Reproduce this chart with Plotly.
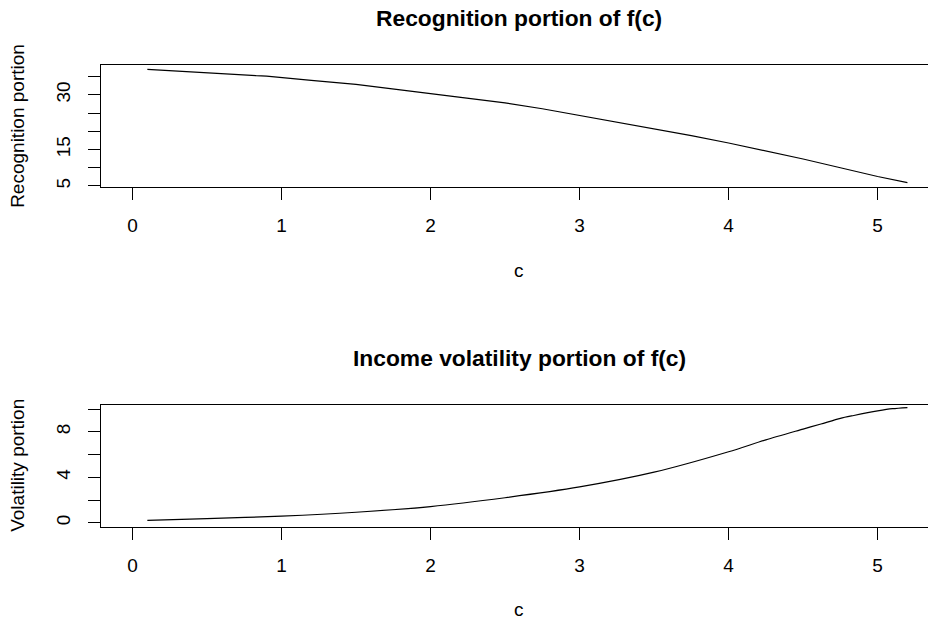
import plotly.graph_objects as go

# Grid of cutoff values c and the two components of f(c)
c_recog = [0.1, 0.3, 0.5, 0.7, 0.83, 0.9, 1.0, 1.2, 1.5, 1.8, 2.0, 2.15, 2.3, 2.5,
           2.75, 3.0, 3.25, 3.5, 3.75, 4.0, 4.25, 4.5, 4.75, 5.0, 5.2]
recognition = [37.03, 36.5, 35.95, 35.45, 35.28, 35.18, 34.75, 34.0, 32.9, 31.4, 30.4,
               29.75, 28.9, 27.8, 26.2, 24.4, 22.6, 20.7, 18.8, 16.8, 14.7, 12.4, 10.0,
               7.6, 5.9]

c_vol = [0.1, 0.5, 1.0, 1.5, 2.0, 2.5, 3.0, 3.5, 4.0, 4.25, 4.5, 4.62, 4.75, 4.84,
         5.0, 5.1, 5.2]
volatility = [0.21, 0.35, 0.58, 0.92, 1.42, 2.2, 3.15, 4.45, 6.25, 7.3, 8.25, 8.7,
              9.2, 9.45, 9.85, 10.05, 10.15]

x_ticks = [0, 1, 2, 3, 4, 5]
recog_ticks = [5, 10, 15, 20, 25, 30, 35]
recog_labels = ["5", "", "15", "", "", "30", ""]
vol_ticks = [0, 2, 4, 6, 8, 10]
vol_labels = ["0", "", "4", "", "8", ""]

W, H = 928, 620
FONT = "Liberation Sans, Arial, Helvetica, sans-serif"
BASE = 19
TITLE = 22.8

# Plot regions in pixels (left, right, top, bottom)
left, right = 101, 928
top1, bot1 = 64.7, 187.0
top2, bot2 = 404.7, 527.0

fig = go.Figure()
fig.add_trace(go.Scatter(x=c_recog, y=recognition, mode="lines",
                         line=dict(color="black", width=1.2),
                         xaxis="x", yaxis="y", showlegend=False))
fig.add_trace(go.Scatter(x=c_vol, y=volatility, mode="lines",
                         line=dict(color="black", width=1.2, shape="spline", smoothing=0.8),
                         xaxis="x2", yaxis="y2", showlegend=False))

xdom = [left / W, right / W]
xrange = [-0.211, 5.338]

common_x = dict(
    domain=xdom, range=xrange, tickvals=x_ticks,
    ticks="outside", ticklen=12, tickwidth=1, tickcolor="black",
    showline=True, linecolor="black", linewidth=1, mirror=True,
    showgrid=False, zeroline=False, ticklabelstandoff=9,
    tickfont=dict(family=FONT, size=BASE, color="black"),
)
common_y = dict(
    ticks="outside", ticklen=12, tickwidth=1, tickcolor="black",
    showline=True, linecolor="black", linewidth=1, mirror=False,
    showgrid=False, zeroline=False, tickangle=-90, ticklabelstandoff=10,
    tickfont=dict(family=FONT, size=BASE, color="black"),
)

fig.update_layout(
    width=W, height=H,
    margin=dict(l=0, r=0, t=0, b=0),
    paper_bgcolor="white", plot_bgcolor="white",
    xaxis=dict(anchor="y", **common_x),
    yaxis=dict(domain=[1 - bot1 / H, 1 - top1 / H], range=[4.72, 38.29],
               tickvals=recog_ticks, ticktext=recog_labels, anchor="x", **common_y),
    xaxis2=dict(anchor="y2", **common_x),
    yaxis2=dict(domain=[1 - bot2 / H, 1 - top2 / H], range=[-0.38, 10.4],
                tickvals=vol_ticks, ticktext=vol_labels, anchor="x2", **common_y),
)

def label(text, x, y, size=BASE, bold=False, angle=0):
    fig.add_annotation(
        text=f"<b>{text}</b>" if bold else text,
        x=x / W, y=1 - y / H, xref="paper", yref="paper",
        showarrow=False, textangle=angle, xanchor="center", yanchor="middle",
        font=dict(family=FONT, size=size, color="black"),
    )

label("Recognition portion of f(c)", 519, 18, size=TITLE, bold=True)
label("c", 519, 270)
label("Recognition portion", 18, (top1 + bot1) / 2, angle=-90)

label("Income volatility portion of f(c)", 519, 358, size=TITLE, bold=True)
label("c", 519, 609)
label("Volatility portion", 18, (top2 + bot2) / 2, angle=-90)

fig.write_html("out.html")
